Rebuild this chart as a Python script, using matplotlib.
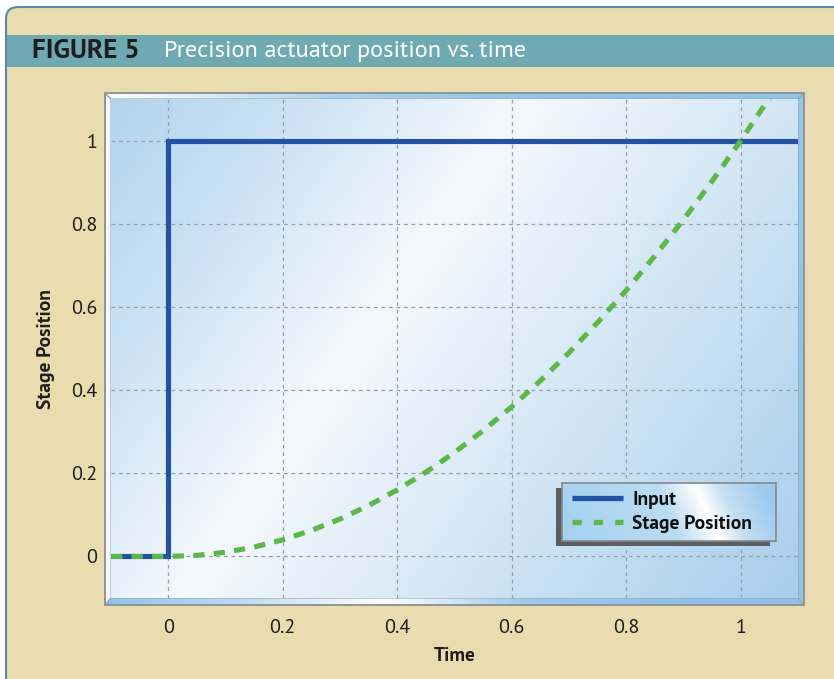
import numpy as np
import matplotlib
matplotlib.use("Agg")
import matplotlib.pyplot as plt
from matplotlib import font_manager
from matplotlib.patches import Polygon, Rectangle, FancyBboxPatch
from matplotlib.colors import LinearSegmentedColormap
from matplotlib.lines import Line2D

# ---------------- data ----------------
input_time = [-0.1, 0.0, 0.0, 1.1]
input_value = [0.0, 0.0, 1.0, 1.0]

stage_time = [-0.1, 0.0, 0.05, 0.1, 0.15, 0.2, 0.25, 0.3, 0.35, 0.4, 0.45, 0.5,
              0.55, 0.6, 0.65, 0.7, 0.75, 0.8, 0.85, 0.9, 0.95, 1.0, 1.05]
stage_value = [0.0, 0.0, 0.0025, 0.01, 0.0225, 0.04, 0.0625, 0.09, 0.1225, 0.16,
               0.2025, 0.25, 0.3025, 0.36, 0.4225, 0.49, 0.5625, 0.64, 0.7225,
               0.81, 0.9025, 1.0, 1.1025]

x_ticks = [0, 0.2, 0.4, 0.6, 0.8, 1]
x_tick_labels = ["0", "0.2", "0.4", "0.6", "0.8", "1"]
y_ticks = [0, 0.2, 0.4, 0.6, 0.8, 1]
y_tick_labels = ["0", "0.2", "0.4", "0.6", "0.8", "1"]

title_bold = "FIGURE 5"
title_text = "Precision actuator position vs. time"
x_label = "Time"
y_label = "Stage Position"
series_names = ["Input", "Stage Position"]

# ---------------- fonts ----------------
names = {f.name for f in font_manager.fontManager.ttflist}
FONT = "PT Sans" if "PT Sans" in names else "DejaVu Sans"

W, H = 834, 679
fig = plt.figure(figsize=(W / 100, H / 100), dpi=100)
fig.patch.set_facecolor("white")

def fx(px):
    return px / W

def fy(py):
    return 1 - py / H

# background drawing axes in pixel coords
bg = fig.add_axes([0, 0, 1, 1], zorder=-2)
bg.set_xlim(0, W)
bg.set_ylim(H, 0)
bg.axis("off")

BEIGE = "#E9DDB0"
frame = FancyBboxPatch((6, 7), 900, 800, boxstyle="round,pad=0,rounding_size=12",
                       facecolor=BEIGE, edgecolor="#5B87A6", linewidth=1.5)
bg.add_patch(frame)
# title bar
bg.add_patch(Rectangle((7, 35), 900, 32, facecolor="#6FA9B1", edgecolor="none"))
bg.text(32, 51, title_bold, fontsize=19.5, fontweight="bold", color="#1E1E1E",
        family=FONT, va="center", ha="left")
bg.text(164, 51, title_text, fontsize=17.5, color="#FFFFFF",
        family=FONT, va="center", ha="left")

# bevel frame around plot
oL, oT, oR, oB = 105, 93, 804, 605
iL, iT, iR, iB = 111, 99, 798, 598

def grad_poly(pts, colors, horizontal=True):
    poly = Polygon(pts, closed=True, facecolor="none", edgecolor="none")
    bg.add_patch(poly)
    cmap = LinearSegmentedColormap.from_list("g", colors)
    xs = [p[0] for p in pts]
    ys = [p[1] for p in pts]
    arr = np.linspace(0, 1, 256)
    arr = arr[None, :] if horizontal else arr[:, None]
    im = bg.imshow(arr, cmap=cmap, extent=[min(xs), max(xs), max(ys), min(ys)],
                   aspect="auto", zorder=1, interpolation="bilinear")
    im.set_clip_path(poly)
    edge = Polygon(pts, closed=True, facecolor="none", edgecolor="#A0A4A8",
                   linewidth=0.8, zorder=2)
    bg.add_patch(edge)

grad_poly([(oL, oT), (oR, oT), (iR, iT), (iL, iT)],
          ["#FFFFFF", "#A8D2F0", "#8FC3EA", "#8FC3EA"])
grad_poly([(oL, oT), (iL, iT), (iL, iB), (oL, oB)],
          ["#F4F9FD", "#F4F9FD"], horizontal=False)
grad_poly([(oR, oT), (oR, oB), (iR, iB), (iR, iT)],
          ["#93C6EC", "#8FC3EA"], horizontal=False)
grad_poly([(oL, oB), (iL, iB), (iR, iB), (oR, oB)],
          ["#8FC3EA", "#BFDDF3", "#FFFFFF", "#9ECBEE", "#8FC3EA", "#8FC3EA"])
bg.add_patch(Rectangle((oL, oT), oR - oL, oB - oT, facecolor="none",
                       edgecolor="#8E9296", linewidth=1.3, zorder=3))

# ---------------- main axes ----------------
ax = fig.add_axes([fx(iL), fy(iB), fx(iR) - fx(iL), fy(iT) - fy(iB)], zorder=0)
ax.set_facecolor("none")
ax.set_xlim(-0.1, 1.1)
ax.set_ylim(-0.1, 1.1)

# plot-area gradient (white band tilted from lower-left to upper-middle)
n = 240
u = np.linspace(0, 1, n)[None, :]
v = np.linspace(1, 0, n)[:, None]
s = u - 0.5 * v
t = (s + 0.5) / 1.5
cmap_bg = LinearSegmentedColormap.from_list(
    "bgc", [(0.0, "#B2D4EF"), (0.18, "#CBE2F4"), (0.40, "#F5F9FD"),
            (0.62, "#D8E9F6"), (0.82, "#BEDBF1"), (1.0, "#A8CEEC")])
ax.imshow(t, cmap=cmap_bg, extent=[0, 1, 0, 1], transform=ax.transAxes,
          aspect="auto", zorder=0, interpolation="bilinear", vmin=0, vmax=1)

for sp in ax.spines.values():
    sp.set_visible(False)

ax.set_xticks(x_ticks)
ax.set_xticklabels(x_tick_labels)
ax.set_yticks(y_ticks)
ax.set_yticklabels(y_tick_labels)
ax.tick_params(axis="both", length=0, labelsize=14.5, colors="#1E1E1E")
ax.tick_params(axis="x", pad=15)
ax.tick_params(axis="y", pad=10)
for lab in ax.get_xticklabels() + ax.get_yticklabels():
    lab.set_family(FONT)

ax.grid(True, color="#9A9DA1", linestyle=(0, (3, 3)), linewidth=0.9, zorder=1)
ax.set_axisbelow(True)

blue, = ax.plot(input_time, input_value, color="#2352A3", linewidth=3.7,
                solid_joinstyle="miter", solid_capstyle="butt", zorder=3,
                label=series_names[0])
green, = ax.plot(stage_time, stage_value, color="#5CB848", linewidth=3.7,
                 linestyle=(0, (2.2, 1.8)), dash_capstyle="butt", zorder=4,
                 label=series_names[1])

fig.text(fx(454.5), fy(656), x_label, fontsize=14, fontweight="bold",
         family=FONT, ha="center", va="center", color="#1E1E1E")
fig.text(fx(46), fy(349), y_label, fontsize=14, fontweight="bold",
         family=FONT, ha="center", va="center", rotation=90, color="#1E1E1E")

# ---------------- legend ----------------
lL, lT, lR, lB = 562, 483, 776, 541
shadow = Rectangle((fx(556), fy(546)), fx(770) - fx(556), fy(488) - fy(546),
                   transform=fig.transFigure, facecolor="#5E5E60",
                   edgecolor="none", zorder=1)
fig.patches.append(shadow)
shadow.set_figure(fig)

lax = fig.add_axes([fx(lL), fy(lB), fx(lR) - fx(lL), fy(lT) - fy(lB)], zorder=2)
lax.set_xlim(0, 1)
lax.set_ylim(0, 1)
lu = np.linspace(0, 1, 200)[None, :]
lv = np.linspace(1, 0, 60)[:, None]
lt = lu + 0.12 * (lv - 0.5)
cmap_leg = LinearSegmentedColormap.from_list(
    "lg", [(0.0, "#A6D2F0"), (0.5, "#BCDCF2"), (0.68, "#FFFFFF"),
           (0.8, "#C4DFF3"), (1.0, "#9CCBEE")])
lax.imshow(np.clip(lt, 0, 1), cmap=cmap_leg, extent=[0, 1, 0, 1], aspect="auto",
           interpolation="bilinear", vmin=0, vmax=1)
lax.set_xticks([])
lax.set_yticks([])
for sp in lax.spines.values():
    sp.set_color("#85898D")
    sp.set_linewidth(1.2)

leg_handles = [Line2D([], [], color="#2352A3", linewidth=3.8, solid_capstyle="butt"),
               Line2D([], [], color="#5CB848", linewidth=3.8,
                      linestyle=(0, (1.75, 2.3)), dash_capstyle="butt")]
leg = lax.legend(leg_handles, series_names, loc="center left",
                 bbox_to_anchor=(0.0, 0.5), frameon=False, handlelength=2.65,
                 handletextpad=0.45, labelspacing=0.3, borderaxespad=0.3,
                 borderpad=0.2,
                 prop={"family": FONT, "weight": "bold", "size": 14})
for txt in leg.get_texts():
    txt.set_color("#111111")

fig.savefig("out.png", dpi=100, facecolor=fig.get_facecolor())
